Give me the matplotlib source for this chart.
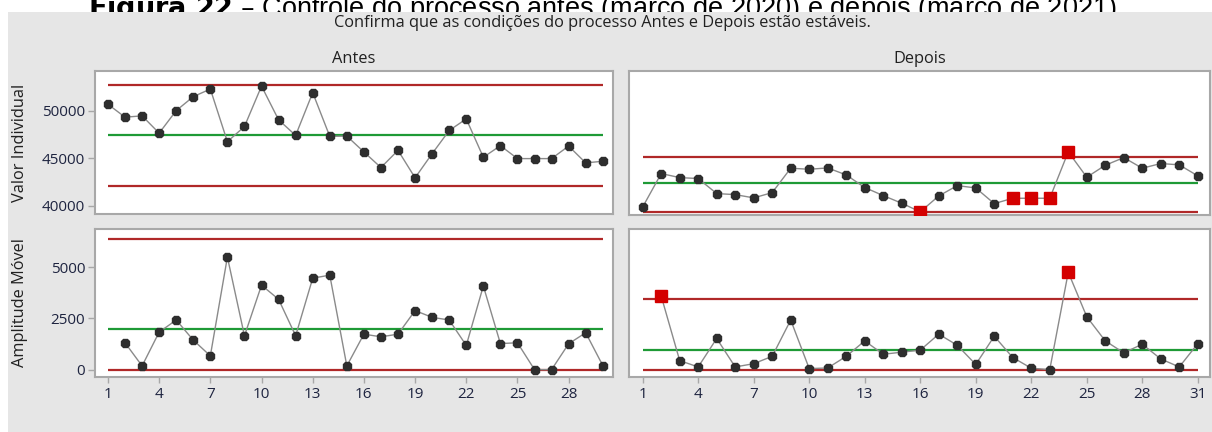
import numpy as np
import matplotlib.pyplot as plt
from matplotlib.patches import Rectangle
from matplotlib.transforms import Bbox

# individual values per stage
antes_ind = [50700, 49340, 49480, 47660, 50030, 51500, 52300, 46760, 48360, 52610,
             49060, 47420, 51920, 47320, 47350, 45680, 44040, 45850, 42960, 45500,
             47940, 49160, 45120, 46340, 44980, 44980, 44980, 46300, 44530, 44700]
depois_ind = [39990, 43480, 43060, 42960, 41390, 41280, 40940, 41490, 44040, 43930,
              44070, 43340, 42020, 41180, 40380, 39480, 41140, 42220, 41980, 40340,
              40900, 40900, 40900, 45750, 43100, 44350, 45150, 44040, 44530, 44390,
              43240]

# moving ranges (start at observation 2)
antes_mr = [1310, 180, 1830, 2420, 1440, 670, 5490, 1650, 4120, 3430,
            1650, 4460, 4610, 180, 1730, 1600, 1730, 2880, 2550, 2420,
            1180, 4080, 1270, 1310, 0, 0, 1260, 1800, 200]
depois_mr = [3590, 440, 130, 1520, 130, 290, 650, 2420, 50, 80,
             650, 1400, 750, 850, 950, 1730, 1190, 250, 1630, 590,
             70, 0, 4750, 2580, 1400, 820, 1240, 520, 130, 1270]

# control limits: (LCL, CL, UCL)
antes_ind_lim = (42080, 47450, 52750)
depois_ind_lim = (39510, 42470, 45190)
antes_mr_lim = (0, 1960, 6370)
depois_mr_lim = (0, 980, 3430)

# observations flagged by the tests
depois_ind_flag = [16, 21, 22, 23, 24]
depois_mr_flag = [2, 24]

font = 'Open Sans'
tick_col = '#1e2440'
txt_col = '#202020'

fig = plt.figure(figsize=(12.12, 4.32), dpi=100)

# caption line, only its strip above the grey panel shows
cap = fig.text(0.5, 0.962, '$\\bf{Figura\\ 22}$ \u2013 Controle do processo antes (março de 2020) e depois (março de 2021).',
               ha='center', va='baseline', fontsize=19.5, family='Liberation Sans', zorder=0)
cap.set_clip_box(Bbox.from_extents(0, 432 - 12, 1212, 432))
cap.set_clip_on(True)
fig.add_artist(Rectangle((8 / 1212, 0), 1, 1 - 12 / 432, transform=fig.transFigure,
                         facecolor='#e6e6e6', edgecolor='none', zorder=1))

fig.text(0.497, 1 - 23 / 432, 'Confirma que as condições do processo Antes e Depois estão estáveis.',
         ha='center', va='center', fontsize=11.8, family=font, color=txt_col, zorder=3)


def make_ax(x0, x1, y0, y1):
    ax = fig.add_axes([x0 / 1212, 1 - y1 / 432, (x1 - x0) / 1212, (y1 - y0) / 432])
    ax.set_zorder(2)
    ax.set_facecolor('white')
    for s in ax.spines.values():
        s.set_color('#a8a8a8')
        s.set_linewidth(1.5)
    return ax


def draw(ax, vals, lims, start, flags, n):
    x = np.arange(start, start + len(vals))
    ax.hlines(lims[0], 1, n, color='#b02828', lw=1.6, zorder=2)
    ax.hlines(lims[2], 1, n, color='#b02828', lw=1.6, zorder=2)
    ax.hlines(lims[1], 1, n, color='#1e9a36', lw=1.6, zorder=2)
    ax.plot(x, vals, color='#8a8a8a', lw=1.0, zorder=3)
    ok = [i for i, xi in enumerate(x) if xi not in flags]
    bad = [i for i, xi in enumerate(x) if xi in flags]
    ax.plot(x[ok], np.array(vals)[ok], ls='none', marker='8', ms=6.2,
            color='#2e2e2e', zorder=4)
    if bad:
        ax.plot(x[bad], np.array(vals)[bad], ls='none', marker='s', ms=9.2,
                color='#d40000', zorder=5)


n_a = len(antes_ind)
n_d = len(depois_ind)

ax_ai = make_ax(95, 613, 71, 214)
ax_di = make_ax(629, 1210, 71, 215)
ax_am = make_ax(95, 613, 229, 377)
ax_dm = make_ax(629, 1210, 229, 377)

draw(ax_ai, antes_ind, antes_ind_lim, 1, [], n_a)
draw(ax_di, depois_ind, depois_ind_lim, 1, depois_ind_flag, n_d)
draw(ax_am, antes_mr, antes_mr_lim, 2, [], n_a)
draw(ax_dm, depois_mr, depois_mr_lim, 2, depois_mr_flag, n_d)

for ax in (ax_ai, ax_di):
    ax.set_ylim(39150, 54200)
for ax in (ax_am, ax_dm):
    ax.set_ylim(-360, 6860)
for ax in (ax_ai, ax_am):
    ax.set_xlim(0.24, 30.6)
for ax in (ax_di, ax_dm):
    ax.set_xlim(0.26, 31.66)

ax_ai.set_yticks([40000, 45000, 50000])
ax_am.set_yticks([0, 2500, 5000])
ax_am.set_xticks(range(1, 29, 3))
ax_dm.set_xticks(range(1, 32, 3))
ax_ai.set_xticks([])
ax_di.set_xticks([])
ax_di.set_yticks([])
ax_dm.set_yticks([])

for ax in (ax_ai, ax_di, ax_am, ax_dm):
    ax.tick_params(axis='y', length=5, width=1, color='#a8a8a8', pad=2,
                   labelsize=11, labelcolor=tick_col)
    ax.tick_params(axis='x', length=4, width=1, color='#a8a8a8', pad=3,
                   labelsize=11, labelcolor=tick_col)
    for lab in ax.get_xticklabels() + ax.get_yticklabels():
        lab.set_family(font)

ax_ai.set_title('Antes', fontsize=11.8, family=font, color=txt_col, pad=6)
ax_di.set_title('Depois', fontsize=11.8, family=font, color=txt_col, pad=6)

fig.text(20 / 1212, 1 - 143 / 432, 'Valor Individual', rotation=90, ha='center', va='center',
         fontsize=11.8, family=font, color=txt_col, zorder=3)
fig.text(20 / 1212, 1 - 303 / 432, 'Amplitude Móvel', rotation=90, ha='center', va='center',
         fontsize=11.8, family=font, color=txt_col, zorder=3)

fig.savefig('out.png', dpi=100)
